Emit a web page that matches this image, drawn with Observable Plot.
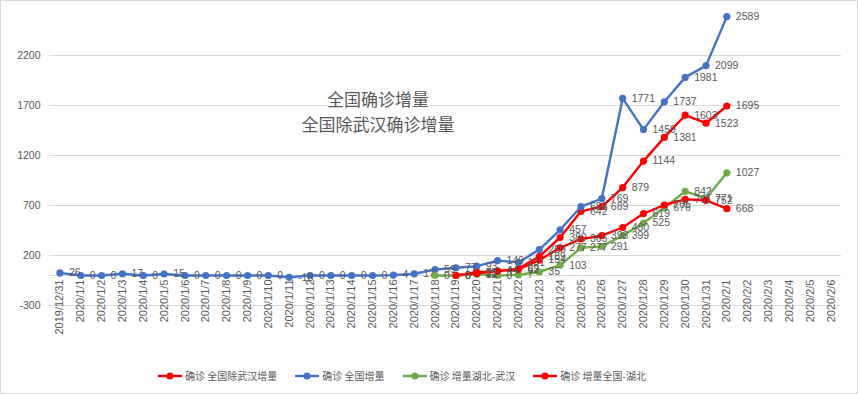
<!DOCTYPE html>
<html><head><meta charset="utf-8">
<script src="https://cdn.jsdelivr.net/npm/d3@7"></script>
<script src="https://cdn.jsdelivr.net/npm/@observablehq/plot@0.6"></script>
<style>
body{margin:0;background:#fff;}
#wrap{position:relative;width:858px;height:394px;background:#fff;overflow:hidden;}
#frame{position:absolute;left:0;top:0;width:858px;height:394px;box-sizing:border-box;border:1px solid #d9d9d9;pointer-events:none;}
#chart{position:absolute;left:0;top:0;}
#title{position:absolute;left:378px;top:86px;transform:translateX(-50%);font-family:"Noto Sans CJK SC";font-size:17px;line-height:25px;color:#595959;text-align:center;white-space:nowrap;}
#title div span{background:#fff;}
#legend{position:absolute;left:0;width:804px;top:368px;display:flex;justify-content:center;gap:18px;font-family:"Noto Sans CJK SC";font-size:10px;line-height:16px;color:#595959;}
#legend .item{display:flex;align-items:center;gap:3px;white-space:nowrap;}
</style></head>
<body>
<div id="wrap"><div id="chart"></div><div id="title"></div><div id="legend"></div><div id="frame"></div></div>
<script>
const dates = ["2019/12/31","2020/1/1","2020/1/2","2020/1/3","2020/1/4","2020/1/5","2020/1/6","2020/1/7","2020/1/8","2020/1/9","2020/1/10","2020/1/11","2020/1/12","2020/1/13","2020/1/14","2020/1/15","2020/1/16","2020/1/17","2020/1/18","2020/1/19","2020/1/20","2020/1/21","2020/1/22","2020/1/23","2020/1/24","2020/1/25","2020/1/26","2020/1/27","2020/1/28","2020/1/29","2020/1/30","2020/1/31","2020/2/1","2020/2/2","2020/2/3","2020/2/4","2020/2/5","2020/2/6"];
const titleLines = ["全国确诊增量","全国除武汉确诊增量"];
const seriesNames = ["确诊 全国除武汉增量","确诊 全国增量","确诊 增量湖北-武汉","确诊 增量全国-湖北"];
const seriesColors = ["#FF0000","#4472C4","#70AD47","#FF0000"];
const seriesStart = ["2020/1/19","2019/12/31","2020/1/18","2020/1/19"];
const exWuhan = [0,33,44,69,189,380,642,689,879,1144,1381,1603,1523,1695];
const national = [26,0,0,17,0,15,0,0,0,0,0,-18,0,0,0,0,4,17,59,77,93,149,131,259,457,688,769,1771,1459,1737,1981,2099,2589];
const hubeiExWuhan = [0,0,12,0,7,35,103,277,291,399,525,676,842,771,1027];
const exHubei = [0,21,44,62,154,277,365,398,480,619,705,761,752,668];
const yTicks = [-300,200,700,1200,1700,2200];
const yDomain = [-300,2700];

const seriesValues = [exWuhan, national, hubeiExWuhan, exHubei];
const series = seriesValues.map((vals, s) => {
  const start = dates.indexOf(seriesStart[s]);
  return vals.map((v, i) => ({date: dates[start + i], value: v, s}));
});
const allRows = series.flat();

const marks = [
  Plot.ruleY(yTicks, {stroke: "#d9d9d9", strokeWidth: 1}),
  Plot.ruleY([0], {stroke: "#d9d9d9", strokeWidth: 1}),
  Plot.text(dates, {x: d => d, y: () => 0, text: d => d, rotate: -90, textAnchor: "end", dy: 4, fill: "#595959", fontSize: 11, fontFamily: "Liberation Sans, Arial, sans-serif"})
];
series.forEach((rows, s) => {
  marks.push(Plot.line(rows, {x: "date", y: "value", stroke: seriesColors[s], strokeWidth: 2.4}));
  marks.push(Plot.dot(rows, {x: "date", y: "value", fill: seriesColors[s], r: 3.6}));
});
marks.push(Plot.text(allRows, {x: "date", y: "value", text: d => String(d.value), dx: 9, textAnchor: "start", fill: "#595959", fontSize: 10.5, fontFamily: "Liberation Sans, Arial, sans-serif"}));

const chart = Plot.plot({
  width: 858,
  height: 355,
  marginLeft: 49,
  marginRight: 17,
  marginTop: 5,
  marginBottom: 50,
  style: {fontFamily: "Liberation Sans, Arial, sans-serif", fontSize: "10.5px", color: "#595959", background: "transparent", overflow: "visible"},
  x: {type: "point", domain: dates, padding: 0.5, axis: null},
  y: {domain: yDomain, ticks: yTicks, tickSize: 0, tickPadding: 9, label: null, tickFormat: d => String(d)},
  marks
});
document.getElementById("chart").appendChild(chart);

const title = document.getElementById("title");
titleLines.forEach(t => {
  const div = document.createElement("div");
  const span = document.createElement("span");
  span.textContent = t;
  div.appendChild(span);
  title.appendChild(div);
});

const legend = document.getElementById("legend");
seriesNames.forEach((name, s) => {
  const item = document.createElement("div");
  item.className = "item";
  item.innerHTML = `<svg width="24" height="10"><line x1="0" x2="24" y1="5" y2="5" stroke="${seriesColors[s]}" stroke-width="2.4"/><circle cx="12" cy="5" r="3.6" fill="${seriesColors[s]}"/></svg>`;
  const span = document.createElement("span");
  span.textContent = name;
  item.appendChild(span);
  legend.appendChild(item);
});
</script>
</body></html>
